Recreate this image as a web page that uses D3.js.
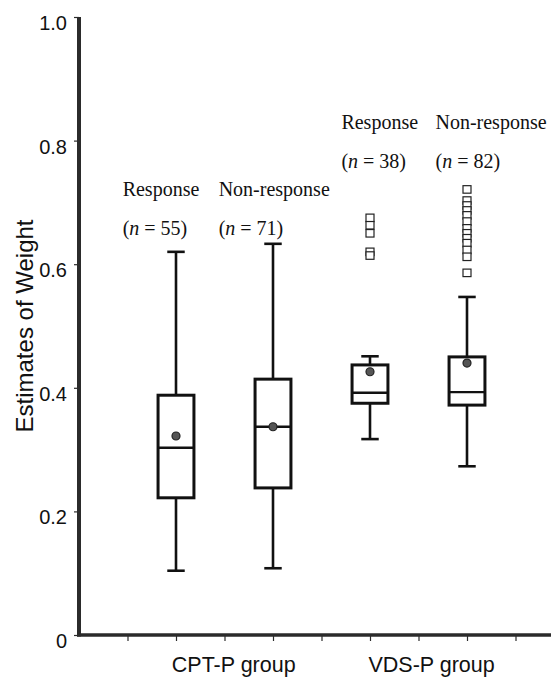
<!DOCTYPE html>
<html>
<head>
<meta charset="utf-8">
<script src="https://cdn.jsdelivr.net/npm/d3@7"></script>
<style>
  html, body { margin: 0; padding: 0; background: #fff; }
  svg { display: block; }
</style>
</head>
<body>
<script>
// ---- data ----
const groups = ["CPT-P group", "VDS-P group"];
const groupCenters = [3.19, 7.27];
const categories = ["Response", "Non-response", "Response", "Non-response"];
const nValues = [55, 71, 38, 82];
const positions = [2, 4, 6, 8];
const whiskerLow  = [0.104, 0.108, 0.317, 0.273];
const q1          = [0.222, 0.238, 0.375, 0.372];
const median      = [0.303, 0.337, 0.392, 0.393];
const q3          = [0.388, 0.414, 0.437, 0.450];
const whiskerHigh = [0.620, 0.633, 0.451, 0.547];
const means       = [0.322, 0.337, 0.426, 0.440];
const outliers = [
  [],
  [],
  [0.675, 0.663, 0.650, 0.620, 0.614],
  [0.721, 0.703, 0.695, 0.687, 0.679, 0.669, 0.658, 0.650, 0.642, 0.634, 0.623, 0.612, 0.586]
];
const yTicks = [0, 0.2, 0.4, 0.6, 0.8, 1.0];
const xTicks = [1, 2, 3, 4, 5, 6, 7, 8, 9];
// label anchors (x in axis units, y in value units)
const labelX = [0.90, 2.88, 5.41, 7.35];
const labelY1 = [0.710, 0.710, 0.819, 0.819];
const labelY2 = [0.647, 0.647, 0.756, 0.756];

const W = 551, H = 682;
const svg = d3.select("body").append("svg").attr("width", W).attr("height", H);

const x = d3.scaleLinear().domain([0, 10]).range([79, 564]);
const y = d3.scaleLinear().domain([0, 1]).range([635, 17]);

const axisColor = "#2b2b2b";

// y axis
const yAxis = svg.append("g").attr("transform", `translate(${x(0)},0)`)
  .call(d3.axisLeft(y).tickValues(yTicks).tickSize(5).tickPadding(7)
    .tickFormat(d => d === 0 ? "0" : d3.format(".1f")(d)));
yAxis.select(".domain").remove();
yAxis.selectAll(".tick line").attr("stroke", axisColor).attr("stroke-width", 1.2);
yAxis.selectAll(".tick text")
  .attr("font-family", "Liberation Sans, Arial, sans-serif")
  .attr("font-size", 20).attr("fill", "#111").attr("dy", "0.62em");

// x axis
const xAxis = svg.append("g").attr("transform", `translate(0,${y(0)})`)
  .call(d3.axisBottom(x).tickValues(xTicks).tickSize(6).tickFormat(""));
xAxis.select(".domain").remove();
xAxis.selectAll(".tick line").attr("stroke", axisColor).attr("stroke-width", 1.2);

// axis lines (thick)
svg.append("line").attr("x1", x(0)).attr("x2", x(0)).attr("y1", y(1)).attr("y2", y(0) + 1.5)
  .attr("stroke", axisColor).attr("stroke-width", 4);
svg.append("line").attr("x1", x(0) - 2).attr("x2", W).attr("y1", y(0)).attr("y2", y(0))
  .attr("stroke", axisColor).attr("stroke-width", 3.5);

// y title
svg.append("text")
  .attr("transform", `translate(33,${y(0.5)}) rotate(-90)`)
  .attr("text-anchor", "middle")
  .attr("font-family", "Liberation Sans, Arial, sans-serif")
  .attr("font-size", 24).attr("fill", "#111")
  .text("Estimates of Weight");

// group labels
svg.selectAll(".grp").data(groups).enter().append("text")
  .attr("x", (d, i) => x(groupCenters[i])).attr("y", 672)
  .attr("text-anchor", "middle")
  .attr("font-family", "Liberation Sans, Arial, sans-serif")
  .attr("font-size", 21.5).attr("fill", "#111")
  .text(d => d);

// boxes
const boxW = x(0.74) - x(0);
const capW = x(0.36) - x(0);
const g = svg.append("g");
positions.forEach((p, i) => {
  const cx = x(p);
  // whiskers
  g.append("line").attr("x1", cx).attr("x2", cx).attr("y1", y(q3[i])).attr("y2", y(whiskerHigh[i]))
    .attr("stroke", "#111").attr("stroke-width", 2.6);
  g.append("line").attr("x1", cx).attr("x2", cx).attr("y1", y(q1[i])).attr("y2", y(whiskerLow[i]))
    .attr("stroke", "#111").attr("stroke-width", 2.6);
  // caps
  [whiskerHigh[i], whiskerLow[i]].forEach(v => {
    g.append("line").attr("x1", cx - capW / 2).attr("x2", cx + capW / 2).attr("y1", y(v)).attr("y2", y(v))
      .attr("stroke", "#111").attr("stroke-width", 2.6);
  });
  // box
  g.append("rect").attr("x", cx - boxW / 2).attr("width", boxW)
    .attr("y", y(q3[i])).attr("height", y(q1[i]) - y(q3[i]))
    .attr("fill", "#fff").attr("stroke", "#111").attr("stroke-width", 3);
  // median
  g.append("line").attr("x1", cx - boxW / 2).attr("x2", cx + boxW / 2).attr("y1", y(median[i])).attr("y2", y(median[i]))
    .attr("stroke", "#111").attr("stroke-width", 2.4);
  // mean
  g.append("circle").attr("cx", cx).attr("cy", y(means[i])).attr("r", 4)
    .attr("fill", "#555").attr("stroke", "#222").attr("stroke-width", 1.2);
  // outliers
  outliers[i].forEach(v => {
    g.append("rect").attr("x", cx - 4).attr("y", y(v) - 3.75).attr("width", 8).attr("height", 7.5)
      .attr("fill", "#fff").attr("stroke", "#222").attr("stroke-width", 1.2);
  });
  // labels
  g.append("text").attr("x", x(labelX[i])).attr("y", y(labelY1[i]))
    .attr("font-family", "Liberation Serif, Times New Roman, serif")
    .attr("font-size", 20).attr("fill", "#111").text(categories[i]);
  const t = g.append("text").attr("x", x(labelX[i])).attr("y", y(labelY2[i]))
    .attr("font-family", "Liberation Serif, Times New Roman, serif")
    .attr("font-size", 20).attr("fill", "#111");
  t.append("tspan").text("(");
  t.append("tspan").attr("font-style", "italic").text("n");
  t.append("tspan").text(" = " + nValues[i] + ")");
});
</script>
</body>
</html>
